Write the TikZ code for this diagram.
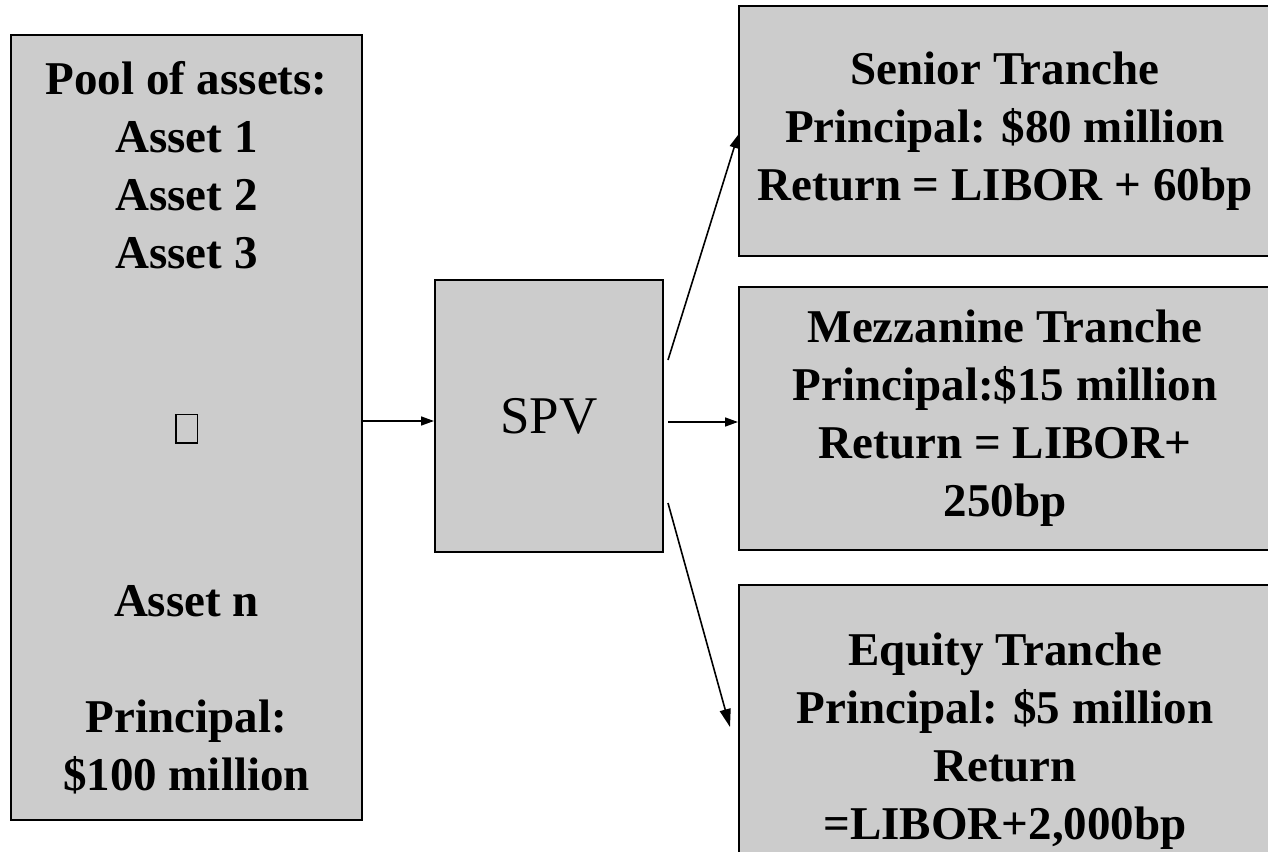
\documentclass[tikz,border=0pt]{standalone}
\usepackage{fontspec}
\setmainfont{Liberation Serif}
\usetikzlibrary{arrows.meta}

\begin{document}
\begin{tikzpicture}[
  x=1pt, y=-1pt,
  box/.style={draw, fill=gray!40, line width=2pt, inner sep=0pt, align=center,
    font=\fontsize{47}{58}\selectfont\bfseries},
  spvbox/.style={draw, fill=gray!40, line width=2pt, inner sep=0pt,
    font=\fontsize{53}{60}\selectfont},
  flow/.style={-{Triangle[length=13pt,width=9pt]}, line width=1.6pt},
  bigflow/.style={-{Triangle[length=18pt,width=11pt]}, line width=1.6pt}]

\path[use as bounding box, clip] (0,0) rectangle (1268,851);

% Position the boxes at their coordinates
\node[box, minimum width=351pt, minimum height=785pt] (pool) at (186.5,427.5)
  {Pool of assets:\\ Asset 1\\ Asset 2\\ Asset 3\\ \mbox{}\\ \mbox{}\\
   {\setlength{\fboxsep}{0pt}\setlength{\fboxrule}{1.6pt}\fbox{\rule{0pt}{27pt}\hspace{20pt}}}\\
   \mbox{}\\ \mbox{}\\ Asset n\\ \mbox{}\\ Principal:\\ \$100 million};
\node[spvbox, minimum width=228pt, minimum height=272pt] (spv) at (549,416) {SPV};
\node[box, minimum width=532pt, minimum height=250pt] (senior) at (1005,131)
  {Senior Tranche\\ Principal: \$80 million\\ Return = LIBOR + 60bp};
\node[box, minimum width=532pt, minimum height=263pt] (mezz) at (1005,418.5)
  {Mezzanine Tranche\\ Principal:\$15 million\\ Return = LIBOR+\\ 250bp};
\node[box, minimum width=532pt, minimum height=312pt] (equity) at (1005,741)
  {Equity Tranche\\ Principal: \$5 million\\ Return\\ =LIBOR+2,000bp};

% Draw the arrows between the boxes
\draw[flow] ([yshift=-5pt]pool.east |- spv.west) -- ([yshift=-5pt]spv.west);
\draw[flow] ([xshift=4pt,yshift=-6pt]spv.east) -- ([yshift=-6pt]spv.east -| mezz.west);
\draw[flow] ([shift={(4,-56)}]spv.east) -- ([shift={(0,4)}]senior.west);
\draw[bigflow] ([shift={(4,87)}]spv.east) -- ([shift={(-8,-14)}]equity.west);

\end{tikzpicture}
\end{document}
